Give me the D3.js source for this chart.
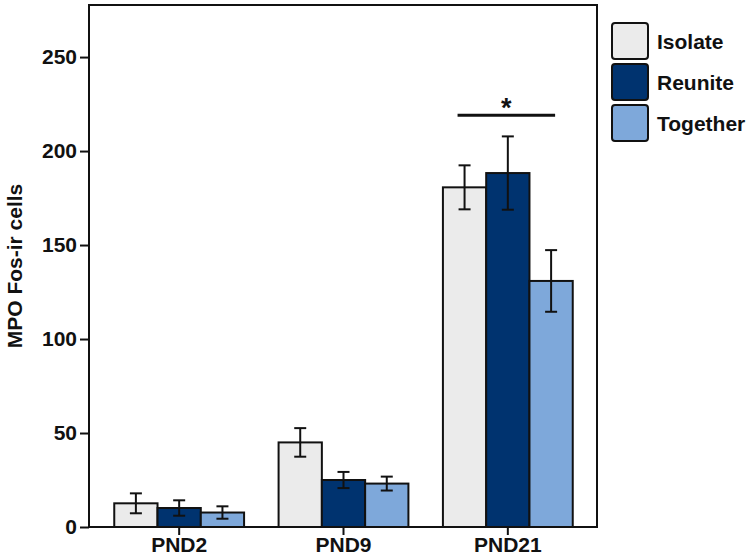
<!DOCTYPE html>
<html>
<head>
<meta charset="utf-8">
<script src="https://cdn.jsdelivr.net/npm/d3@7"></script>
<style>
  body { margin: 0; background: #fff; }
  text { font-family: "Liberation Sans", Arial, sans-serif; font-weight: bold; fill: #111; }
</style>
</head>
<body>
<svg id="chart" width="750" height="560"></svg>
<script>
// data
const ages = ['PND2', 'PND9', 'PND21'];
const groups = ['Isolate', 'Reunite', 'Together'];
const colors = ['#ebebeb', '#00336f', '#7ea8da'];
const means = {
  Isolate: [12.6, 45.0, 180.7],
  Reunite: [10.1, 25.0, 188.3],
  Together: [7.7, 23.1, 130.9]
};
const sems = {
  Isolate: [5.3, 7.6, 11.7],
  Reunite: [4.1, 4.3, 19.5],
  Together: [3.3, 3.7, 16.4]
};
const yTicks = [0, 50, 100, 150, 200, 250];
const sigLine = { age: 'PND21', from: 'Isolate', to: 'Together', value: 219 };

const svg = d3.select('#chart');
const margin = { top: 5, right: 153, bottom: 33, left: 89 };
const width = 750, height = 560;

const y = d3.scaleLinear()
  .domain([0, 277.7])
  .range([height - margin.bottom, margin.top]);

const x0 = d3.scaleBand()
  .domain(ages)
  .range([97, 590])
  .paddingInner(0.21)
  .paddingOuter(0.105);

const x1 = d3.scaleBand()
  .domain(groups)
  .range([0, x0.bandwidth()]);

const color = d3.scaleOrdinal().domain(groups).range(colors);

const rows = ages.flatMap((age, i) =>
  groups.map(g => ({ age, group: g, mean: means[g][i], sem: sems[g][i] }))
);

// bars
svg.append('g')
  .selectAll('rect')
  .data(rows)
  .join('rect')
  .attr('x', d => x0(d.age) + x1(d.group))
  .attr('y', d => y(d.mean))
  .attr('width', x1.bandwidth())
  .attr('height', d => y(0) - y(d.mean))
  .attr('fill', d => color(d.group))
  .attr('stroke', '#111')
  .attr('stroke-width', 2);

// error bars
const capW = 6;
const eb = svg.append('g')
  .attr('stroke', '#111')
  .attr('stroke-width', 2)
  .selectAll('g')
  .data(rows)
  .join('g')
  .attr('transform', d => `translate(${x0(d.age) + x1(d.group) + x1.bandwidth() / 2},0)`);
eb.append('line')
  .attr('y1', d => y(d.mean - d.sem))
  .attr('y2', d => y(d.mean + d.sem));
eb.append('line')
  .attr('x1', -capW).attr('x2', capW)
  .attr('y1', d => y(d.mean + d.sem))
  .attr('y2', d => y(d.mean + d.sem));
eb.append('line')
  .attr('x1', -capW).attr('x2', capW)
  .attr('y1', d => y(d.mean - d.sem))
  .attr('y2', d => y(d.mean - d.sem));

// significance
const sx1 = x0(sigLine.age) + x1(sigLine.from) + x1.bandwidth() / 2 - 7;
const sx2 = x0(sigLine.age) + x1(sigLine.to) + x1.bandwidth() / 2 + 4;
svg.append('line')
  .attr('x1', sx1).attr('x2', sx2)
  .attr('y1', y(sigLine.value)).attr('y2', y(sigLine.value))
  .attr('stroke', '#111')
  .attr('stroke-width', 3);
svg.append('text')
  .attr('x', (sx1 + sx2) / 2)
  .attr('y', y(sigLine.value) + 2)
  .attr('text-anchor', 'middle')
  .attr('font-size', 27)
  .text('*');

// frame
svg.append('rect')
  .attr('x', margin.left)
  .attr('y', margin.top)
  .attr('width', width - margin.left - margin.right)
  .attr('height', height - margin.top - margin.bottom)
  .attr('fill', 'none')
  .attr('stroke', '#111')
  .attr('stroke-width', 2);

// axes
const yAxis = svg.append('g')
  .attr('transform', `translate(${margin.left},0)`)
  .call(d3.axisLeft(y).tickValues(yTicks).tickSize(9).tickPadding(3));
const xAxis = svg.append('g')
  .attr('transform', `translate(0,${height - margin.bottom})`)
  .call(d3.axisBottom(x0).tickSize(8).tickPadding(2));
[yAxis, xAxis].forEach(a => {
  a.select('.domain').remove();
  a.selectAll('line').attr('stroke', '#111').attr('stroke-width', 2);
  a.selectAll('text')
    .attr('font-size', 21)
    .attr('font-family', '"Liberation Sans", Arial, sans-serif')
    .attr('font-weight', 'bold')
    .attr('fill', '#111');
});

// y title
svg.append('text')
  .attr('transform', `translate(22,${(margin.top + height - margin.bottom) / 2}) rotate(-90)`)
  .attr('text-anchor', 'middle')
  .attr('font-size', 21)
  .text('MPO Fos-ir cells');

// legend
const legend = svg.append('g')
  .attr('transform', 'translate(612,23)')
  .selectAll('g')
  .data(groups)
  .join('g')
  .attr('transform', (d, i) => `translate(0,${i * 41})`);
legend.append('rect')
  .attr('width', 36)
  .attr('height', 36)
  .attr('rx', 3)
  .attr('fill', d => color(d))
  .attr('stroke', '#111')
  .attr('stroke-width', 2);
legend.append('text')
  .attr('x', 45)
  .attr('y', 18)
  .attr('dy', '0.36em')
  .attr('font-size', 21)
  .text(d => d);
</script>
</body>
</html>
